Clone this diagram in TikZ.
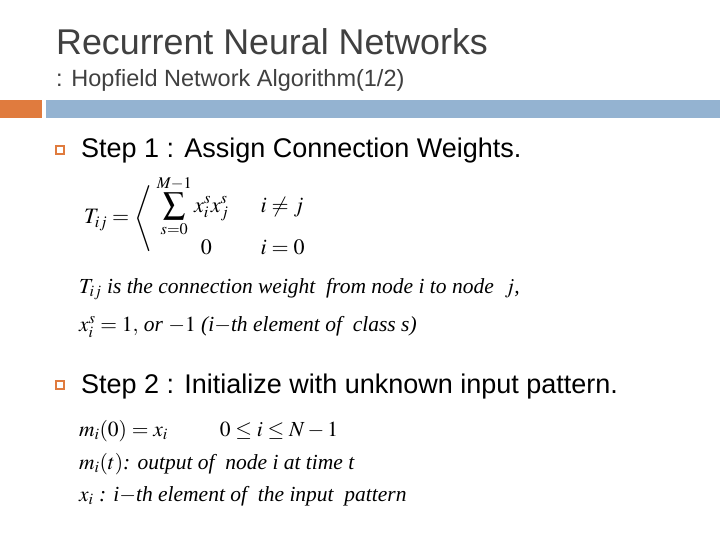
\documentclass[tikz,border=0pt]{standalone}
\usepackage{mathptmx}
\usepackage{amsmath}
\usepackage[no-math]{fontspec}
\setmainfont{Liberation Sans}
\newfontfamily\tms{Liberation Serif}
\definecolor{orng}{HTML}{E07B3E}
\definecolor{blu}{HTML}{94B3D1}
\definecolor{ttl}{HTML}{404040}
\begin{document}
\begin{tikzpicture}[x=1pt,y=-1pt,
  bul/.style={draw=orng,line width=1.2pt,minimum size=8pt,inner sep=0pt},
  stp/.style={anchor=base west,font=\fontsize{27}{29}\selectfont,inner sep=0pt},
  mth/.style={anchor=base west,font=\fontsize{21.5}{23}\selectfont\tms,inner sep=0pt}]
\useasboundingbox (0,0) rectangle (720,540);
\fill[white] (0,0) rectangle (720,540);
\node[anchor=base west,inner sep=0pt,text=ttl,font=\fontsize{35.8}{38}\selectfont] (title) at (56,55) {Recurrent Neural Networks};
\node[anchor=base west,inner sep=0pt,text=ttl,font=\fontsize{23.5}{25}\selectfont] (sub) at (56,87) {: Hopfield Network Algorithm(1/2)};
\fill[orng] (0,100) rectangle (42,118);
\fill[blu] (46,100) rectangle (720,118);
\node[bul] (b1) at (60,150) {};
\node[stp] (s1) at (81,158) {Step 1 : Assign Connection Weights.};
\node[mth,font=\fontsize{22}{24}\selectfont] (eq1) at (84,224) {$T_{ij}=\left\langle\begin{array}{ll}\displaystyle\sum_{s=0}^{M-1} x_i^s x_j^s & \quad i\neq j\\[4pt] \qquad 0 & \quad i=0\end{array}\right.$};
\node[mth] (l1) at (79,293) {$T_{ij}$ \itshape is the connection weight\enspace from node i to node\enspace $j$,};
\node[mth] (l2) at (79,331) {$x_i^s=1,$ \itshape or\ $-1$ (i$-$th element of\enspace class\ s)};
\node[bul] (b2) at (60,385) {};
\node[stp] (s2) at (81,393) {Step 2 : Initialize with unknown input pattern.};
\node[mth] (m1) at (79,436) {$m_i(0)=x_i$\hspace{52pt}$0\le i\le N-1$};
\node[mth] (m2) at (79,469) {$m_i(t)$\itshape: output of\enspace node i at time t};
\node[mth] (m3) at (79,501) {$x_i$\itshape\ : i$-$th element of\enspace the input\enspace pattern};
\end{tikzpicture}
\end{document}
